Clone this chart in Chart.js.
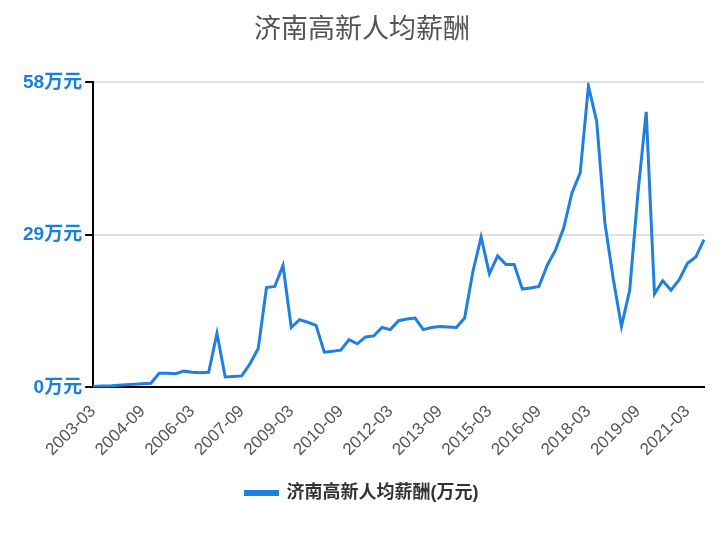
<!DOCTYPE html>
<html>
<head>
<meta charset="utf-8">
<script src="https://cdn.jsdelivr.net/npm/chart.js@4"></script>
<style>
  body { margin: 0; background: #fff; }
  #wrap { position: relative; width: 724px; height: 540px; }
</style>
</head>
<body>
<div id="wrap"><canvas id="c"></canvas></div>
<script>
// quarterly categories 2003-03 .. 2021-09
const quarters = [];
for (let y = 2003; y <= 2021; y++) {
  for (const m of ["03", "06", "09", "12"]) {
    if (y === 2021 && m === "12") break;
    quarters.push(y + "-" + m);
  }
}
const salary = [
  0.2, 0.3, 0.3, 0.4, 0.5, 0.6, 0.7, 0.8, 2.7, 2.7, 2.6, 3.1, 2.9, 2.8, 2.9, 10.3,
  2.0, 2.1, 2.2, 4.5, 7.4, 19.0, 19.2, 23.2, 11.4, 12.9, 12.4, 11.8, 6.7, 6.9, 7.1, 9.1,
  8.3, 9.6, 9.8, 11.4, 11.0, 12.7, 13.0, 13.2, 11.0, 11.4, 11.6, 11.5, 11.4, 13.2, 22.0, 28.6,
  21.6, 25.0, 23.4, 23.4, 18.7, 18.9, 19.2, 23.2, 26.1, 30.3, 37.0, 40.8, 57.3, 50.6, 31.2, 20.7,
  11.6, 18.5, 37.0, 52.4, 17.8, 20.3, 18.5, 20.5, 23.6, 24.8, 28.1
];
const yTicks = [0, 29, 58];

const font = "'Liberation Sans', 'Noto Sans CJK SC', sans-serif";

new Chart(document.getElementById("c").getContext("2d"), {
  type: "line",
  data: {
    labels: quarters,
    datasets: [{
      label: "济南高新人均薪酬(万元)",
      data: salary,
      borderColor: "#2080e0",
      backgroundColor: "#2080e0",
      borderWidth: 3,
      pointRadius: 0,
      tension: 0
    }]
  },
  options: {
    responsive: true,
    maintainAspectRatio: false,
    animation: false,
    layout: { padding: { left: 20, right: 20, top: 0, bottom: 28 } },
    plugins: {
      title: {
        display: true,
        text: "济南高新人均薪酬",
        color: "#555",
        font: { family: font, size: 27, weight: "normal" },
        padding: { top: 14, bottom: 36 }
      },
      legend: {
        position: "bottom",
        labels: {
          color: "#333",
          font: { family: font, size: 18, weight: "bold" },
          boxWidth: 32,
          boxHeight: 3,
          padding: 18
        }
      },
      tooltip: { enabled: false }
    },
    scales: {
      x: {
        offset: false,
        grid: { display: false, drawTicks: true, tickLength: 8, tickColor: "#000" },
        border: { color: "#000", width: 2 },
        ticks: {
          color: "#555",
          font: { family: font, size: 17 },
          maxRotation: 45,
          minRotation: 45,
          autoSkip: false,
          padding: 6,
          callback: function (v, i) { return i % 6 === 0 ? quarters[i] : null; }
        }
      },
      y: {
        min: yTicks[0],
        max: yTicks[2],
        afterBuildTicks: function (axis) { axis.ticks = yTicks.map(v => ({ value: v })); },
        grid: { color: "#e0e0e0", lineWidth: 2, tickColor: "#000", tickLength: 8 },
        border: { color: "#000", width: 2 },
        ticks: {
          color: "#1a7fe0",
          font: { family: font, size: 19, weight: "bold" },
          callback: v => v + "万元"
        }
      }
    }
  }
});
</script>
</body>
</html>
